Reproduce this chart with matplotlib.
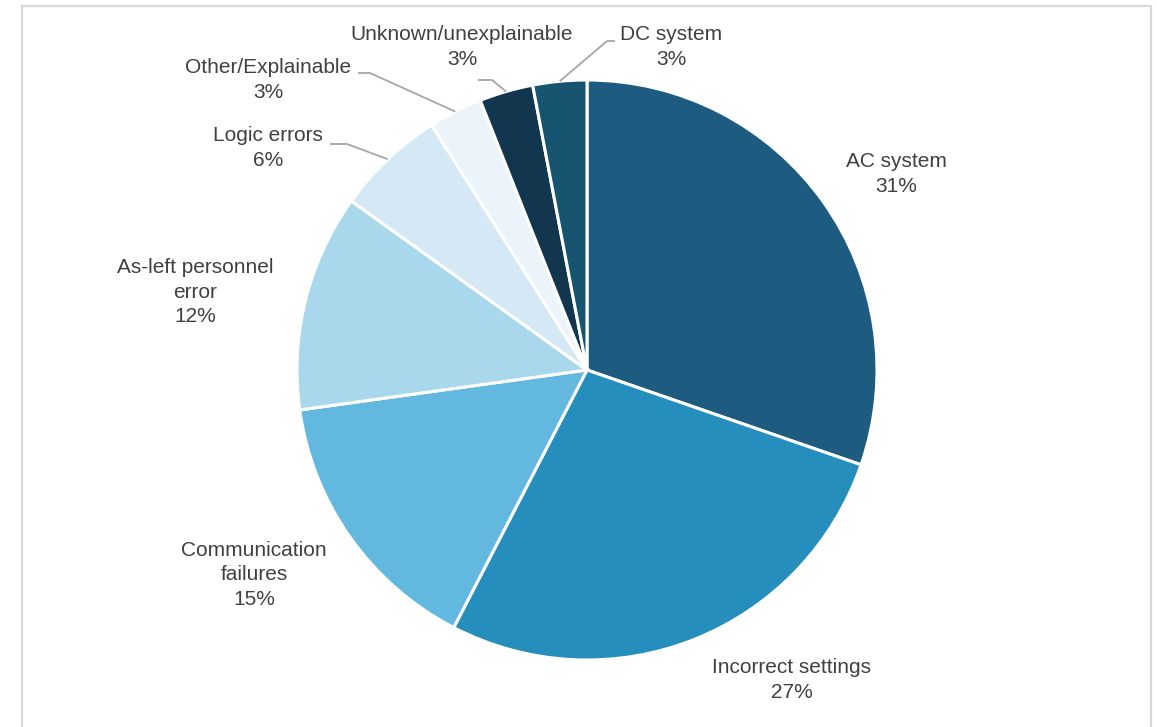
import matplotlib
matplotlib.use("Agg")
import matplotlib.pyplot as plt
from matplotlib.patches import Rectangle
import numpy as np

# ---- data ----
categories = ["AC system", "Incorrect settings", "Communication\nfailures",
              "As-left personnel\nerror", "Logic errors", "Other/Explainable",
              "Unknown/unexplainable", "DC system"]
shares = [30.3, 27.3, 15.2, 12.1, 6.1, 3.0, 3.0, 3.0]
pct_labels = ["31%", "27%", "15%", "12%", "6%", "3%", "3%", "3%"]
colors = ["#1E5B80", "#258EBC", "#62B8DF", "#A9D8EC", "#D4E9F5",
          "#EBF4FB", "#13364F", "#17546F"]

# ---- layout (image pixel coords) ----
W, H = 1157, 727
CX, CY, R = 587, 370, 290
label_pos = [(896, 174), (792, 680), (254, 575), (195, 292),
             (268, 148), (268, 80), (462, 47), (671, 47)]
# leader line: (elbow x, elbow y, end x) for labels that have leaders, else None
leaders = [None, None, None, None,
           (347, 144, 330), (370, 73, 358), (492, 80, 478), (607, 41, 615)]

def fy(y):
    return H - y

fig = plt.figure(figsize=(W / 100, H / 100), dpi=100)
ax = fig.add_axes([0, 0, 1, 1])
wedges, _ = ax.pie(shares, colors=colors, startangle=90, counterclock=False,
                   center=(CX, fy(CY)), radius=R, frame=True,
                   wedgeprops=dict(edgecolor="white", linewidth=2.2))
ax.set_xlim(0, W)
ax.set_ylim(0, H)
ax.set_aspect("auto")
ax.axis("off")

# frame
ax.add_patch(Rectangle((22, fy(760)), 1151 - 22, 760 - 6, fill=False,
                       edgecolor="#D9D9D9", linewidth=1.6, zorder=0))

font = dict(family=["Liberation Sans", "DejaVu Sans"], fontsize=15, color="#404040")
for cat, pct, (lx, ly), w, ld in zip(categories, pct_labels, label_pos, wedges, leaders):
    ax.text(lx, fy(ly), f"{cat}\n{pct}", ha="center", va="center",
            linespacing=1.37, **font)
    if ld is not None:
        mid = np.deg2rad((w.theta1 + w.theta2) / 2)
        sx = CX + R * np.cos(mid)
        sy = fy(CY) + R * np.sin(mid)
        ex, ey, tx = ld
        ax.plot([sx, ex, tx], [sy, fy(ey), fy(ey)], color="#A6A6A6",
                linewidth=1.3, solid_capstyle="butt", zorder=1)

fig.savefig("out.png", dpi=100, facecolor="white")
